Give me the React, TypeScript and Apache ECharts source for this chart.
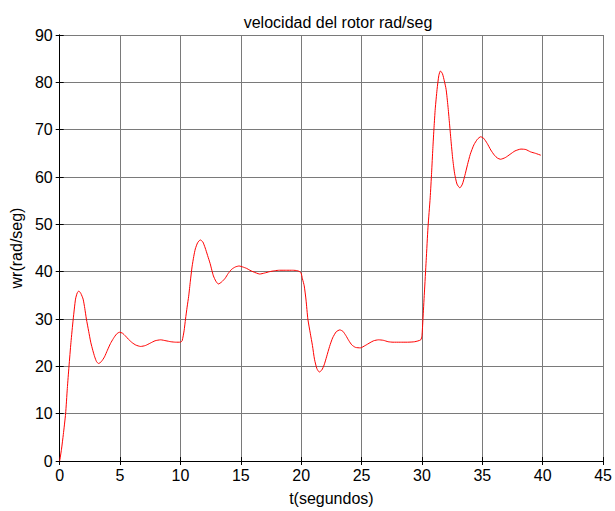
import React, { useEffect, useRef } from "react";
import * as echarts from "echarts";

const tValues: number[] = [
  0, 0.15, 0.3, 0.49, 0.63, 0.77, 0.93, 1.12, 1.31, 1.45, 1.58, 1.75, 1.94, 2.08, 2.21, 2.4, 2.57, 2.75, 2.9, 3.05,
  3.22, 3.45, 3.71, 3.95, 4.2, 4.45, 4.7, 4.95, 5.2, 5.45, 5.7, 6.0, 6.3, 6.7, 7.1, 7.5, 7.9, 8.36, 8.8, 9.2,
  9.6, 10.0, 10.14, 10.3, 10.42, 10.55, 10.68, 10.82, 10.96, 11.1, 11.23, 11.42, 11.64, 11.85, 12.05, 12.25, 12.46, 12.6, 12.73, 12.93,
  13.14, 13.4, 13.7, 13.95, 14.24, 14.55, 14.86, 15.15, 15.47, 15.75, 16.0, 16.3, 16.56, 16.95, 17.38, 17.8, 18.2, 18.8, 19.29, 19.7,
  19.97, 20.1, 20.25, 20.4, 20.55, 20.75, 20.93, 21.1, 21.3, 21.5, 21.7, 21.9, 22.1, 22.35, 22.6, 22.9, 23.2, 23.45, 23.7, 23.95,
  24.2, 24.5, 24.9, 25.3, 25.7, 26.0, 26.4, 26.8, 27.2, 27.6, 28.2, 28.8, 29.4, 29.9, 30.0, 30.08, 30.2, 30.35, 30.5, 30.68,
  30.8, 30.9, 31.0, 31.1, 31.25, 31.4, 31.53, 31.7, 31.85, 32.0, 32.15, 32.27, 32.4, 32.54, 32.7, 32.9, 33.14, 33.35, 33.55, 33.77,
  34.0, 34.3, 34.6, 34.86, 35.1, 35.4, 35.7, 36.0, 36.25, 36.5, 36.9, 37.3, 37.7, 38.2, 38.6, 39.0, 39.4, 39.84,
];

const wrValues: number[] = [
  0, 2.5, 5.6, 10, 15.3, 20, 25, 30, 34.2, 35.5, 35.9, 35.4, 34.2, 32.2, 30, 27.4, 25.1, 23.3, 22, 21,
  20.6, 21, 22, 23.4, 24.8, 25.9, 26.8, 27.2, 27.0, 26.4, 25.7, 25.0, 24.5, 24.2, 24.4, 24.9, 25.4, 25.6, 25.4, 25.2,
  25.1, 25.1, 25.4, 27.5, 30, 32.5, 34.8, 38, 41, 43.2, 44.8, 46.1, 46.7, 46.3, 45.0, 43.4, 41.7, 40.3, 39.1, 38,
  37.4, 37.8, 38.6, 39.6, 40.5, 41, 41.2, 41.0, 40.7, 40.3, 40.0, 39.7, 39.5, 39.7, 40.0, 40.2, 40.3, 40.3, 40.3, 40.2,
  39.8, 38.5, 37, 34, 30, 27, 24.4, 21.5, 19.5, 18.8, 19.2, 20.3, 22.0, 24.2, 26.0, 27.3, 27.7, 27.4, 26.5, 25.4,
  24.5, 24.0, 23.9, 24.4, 25.0, 25.4, 25.6, 25.5, 25.2, 25.1, 25.1, 25.1, 25.2, 25.6, 26.5, 29.9, 35.5, 42.4, 49.4, 55.6,
  61, 66, 70.5, 74.4, 78.5, 81.5, 82.4, 81.8, 80.3, 78.5, 75, 71.6, 67.8, 64, 60.8, 58.5, 57.7, 58.5, 60.3, 62.6,
  64.8, 66.8, 68.0, 68.5, 68.2, 67.1, 65.7, 64.6, 64.0, 63.75, 64.1, 64.8, 65.5, 65.9, 65.8, 65.3, 65.0, 64.6,
];

const titleText = "velocidad del rotor rad/seg";
const xName = "t(segundos)";
const yName = "wr(rad/seg)";

const FONT = "'Liberation Sans', Arial, sans-serif";

export default function App() {
  const ref = useRef<HTMLDivElement>(null);
  useEffect(() => {
    if (!ref.current) return;
    const chart = echarts.init(ref.current, null, { renderer: "svg" });
    const data = tValues.map((t, i) => [t, wrValues[i]]);
    const gridColor = "#7a7a7a";
    const hiddenAxisCommon = {
      axisLabel: { show: false },
      splitLine: { show: false },
      axisLine: { show: true, lineStyle: { color: "#000", width: 1 } },
      axisTick: { show: true, inside: true, length: 4, lineStyle: { color: "#000" } },
    };
    chart.setOption({
      animation: false,
      backgroundColor: "#fff",
      title: {
        text: titleText,
        left: 333,
        textAlign: "center",
        top: 9,
        textStyle: { fontFamily: FONT, fontSize: 16, fontWeight: "normal", color: "#000" },
      },
      grid: { left: 58, right: 7, top: 35, bottom: 44, containLabel: false },
      xAxis: [
        {
          type: "value",
          min: 0,
          max: 45,
          interval: 5,
          name: xName,
          nameLocation: "middle",
          nameGap: 29,
          nameTextStyle: { fontFamily: FONT, fontSize: 16, color: "#000" },
          axisLine: { show: true, onZero: false, lineStyle: { color: "#000", width: 1 } },
          axisTick: { show: true, inside: true, length: 4, lineStyle: { color: "#000" } },
          axisLabel: { fontFamily: FONT, fontSize: 16, color: "#000", margin: 6 },
          splitLine: { show: true, lineStyle: { color: gridColor, width: 1 } },
        },
        { type: "value", min: 0, max: 45, interval: 5, position: "top", ...hiddenAxisCommon },
      ],
      yAxis: [
        {
          type: "value",
          min: 0,
          max: 90,
          interval: 10,
          name: yName,
          nameLocation: "middle",
          nameGap: 31,
          nameTextStyle: { fontFamily: FONT, fontSize: 16, color: "#000" },
          axisLine: { show: true, onZero: false, lineStyle: { color: "#000", width: 1 } },
          axisTick: { show: true, inside: true, length: 4, lineStyle: { color: "#000" } },
          axisLabel: { fontFamily: FONT, fontSize: 16, color: "#000", margin: 7 },
          splitLine: { show: true, lineStyle: { color: gridColor, width: 1 } },
        },
        { type: "value", min: 0, max: 90, interval: 10, position: "right", ...hiddenAxisCommon },
      ],
      series: [
        {
          type: "line",
          data,
          showSymbol: false,
          smooth: 0.2,
          lineStyle: { color: "#ff0000", width: 1 },
          itemStyle: { color: "#ff0000" },
        },
      ],
    });
    return () => chart.dispose();
  }, []);
  return <div ref={ref} style={{ width: 615, height: 511, position: "absolute", left: 0, top: 0 }} />;
}
